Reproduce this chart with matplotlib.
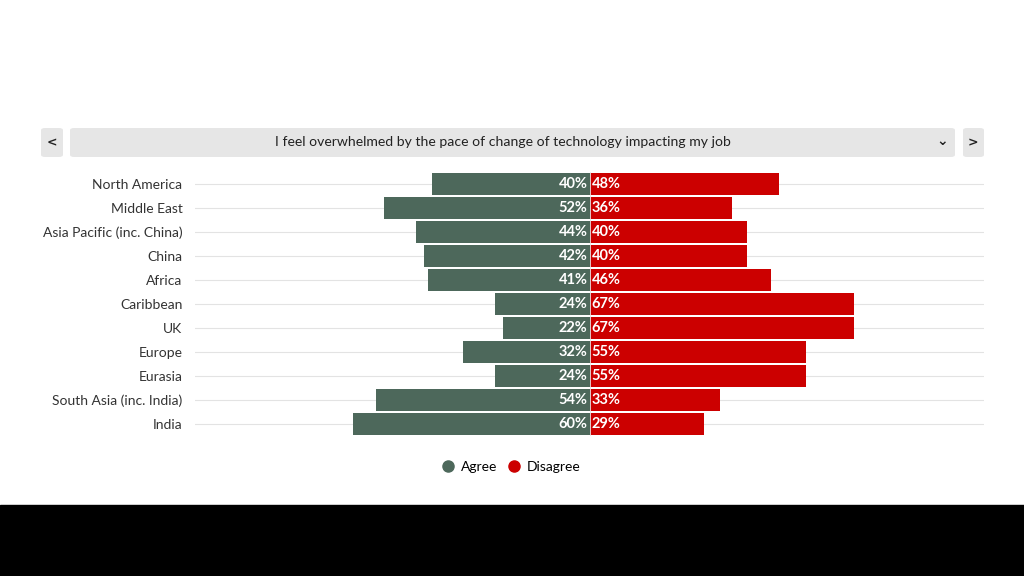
import matplotlib.pyplot as plt
from matplotlib.patches import FancyBboxPatch, Rectangle
from matplotlib.lines import Line2D

plt.rcParams['font.family'] = ['Lato', 'DejaVu Sans']

regions = ["North America", "Middle East", "Asia Pacific (inc. China)", "China", "Africa",
           "Caribbean", "UK", "Europe", "Eurasia", "South Asia (inc. India)", "India"]
agree = [40, 52, 44, 42, 41, 24, 22, 32, 24, 54, 60]
disagree = [48, 36, 40, 40, 46, 67, 67, 55, 55, 33, 29]
title = "I feel overwhelmed by the pace of change of technology impacting my job"

green = "#4d685b"
red = "#cc0000"

fig = plt.figure(figsize=(10.24, 5.76), dpi=100)
fig.patch.set_facecolor("white")

# black band at the bottom
fig.add_artist(Rectangle((0, 0), 1, 71 / 576, transform=fig.transFigure, color="black", zorder=0))

# header bar with arrow buttons
def box(x0, x1, y0, y1):
    W, H = 1024, 576
    p = FancyBboxPatch((x0 / W, 1 - y1 / H), (x1 - x0) / W, (y1 - y0) / H,
                       boxstyle="round,pad=0,rounding_size=0.004", transform=fig.transFigure,
                       facecolor="#e6e6e6", edgecolor="none")
    fig.add_artist(p)

box(41, 63, 128, 157)
box(70, 955, 128, 157)
box(963, 984, 128, 157)
fig.text(52 / 1024, 1 - 143 / 576, "<", ha="center", va="center", fontsize=9, fontweight="bold",
         color="#222", family=['DejaVu Sans'])
fig.text(973 / 1024, 1 - 143 / 576, ">", ha="center", va="center", fontsize=9, fontweight="bold",
         color="#222", family=['DejaVu Sans'])
fig.text(942 / 1024, 1 - 141 / 576, "⌄", ha="center", va="center", fontsize=10, fontweight="bold",
         color="#222", family=['DejaVu Sans'])
fig.text(503 / 1024, 1 - 142 / 576, title, ha="center", va="center", fontsize=10.1, color="#222")

ax = fig.add_axes([195 / 1024, (576 - 436) / 576, (984 - 195) / 1024, 264 / 576])
y = list(range(len(regions)))
for yi in y:
    ax.axhline(yi, color="#e3e3e3", linewidth=0.8, zorder=0)
ax.barh(y, [-a for a in agree], height=0.92, color=green, zorder=2)
ax.barh(y, disagree, height=0.92, color=red, zorder=2)
for yi, a, d in zip(y, agree, disagree):
    ax.text(-0.5, yi, f"{a}%", ha="right", va="center", color="white", fontsize=10.5, fontweight="bold", zorder=3)
    ax.text(0.5, yi, f"{d}%", ha="left", va="center", color="white", fontsize=10.5, fontweight="bold", zorder=3)
ax.axvline(0, color="#e8e8e8", linewidth=0.6, zorder=2.5)

ax.set_xlim(-100, 100)
ax.set_ylim(len(regions) - 0.5, -0.5)
ax.set_yticks(y)
ax.set_yticklabels(regions, fontsize=10, color="#333")
ax.tick_params(axis="y", length=0, pad=9)
ax.set_xticks([])
for s in ax.spines.values():
    s.set_visible(False)

handles = [Line2D([], [], marker="o", linestyle="none", color=green, markersize=8),
           Line2D([], [], marker="o", linestyle="none", color=red, markersize=8)]
fig.legend(handles, ["Agree", "Disagree"], loc="center", bbox_to_anchor=(510 / 1024, 1 - 467 / 576),
           ncol=2, frameon=False, fontsize=10, handletextpad=0.3, columnspacing=0.6, handlelength=1.2)

fig.savefig("out.png", dpi=100)
